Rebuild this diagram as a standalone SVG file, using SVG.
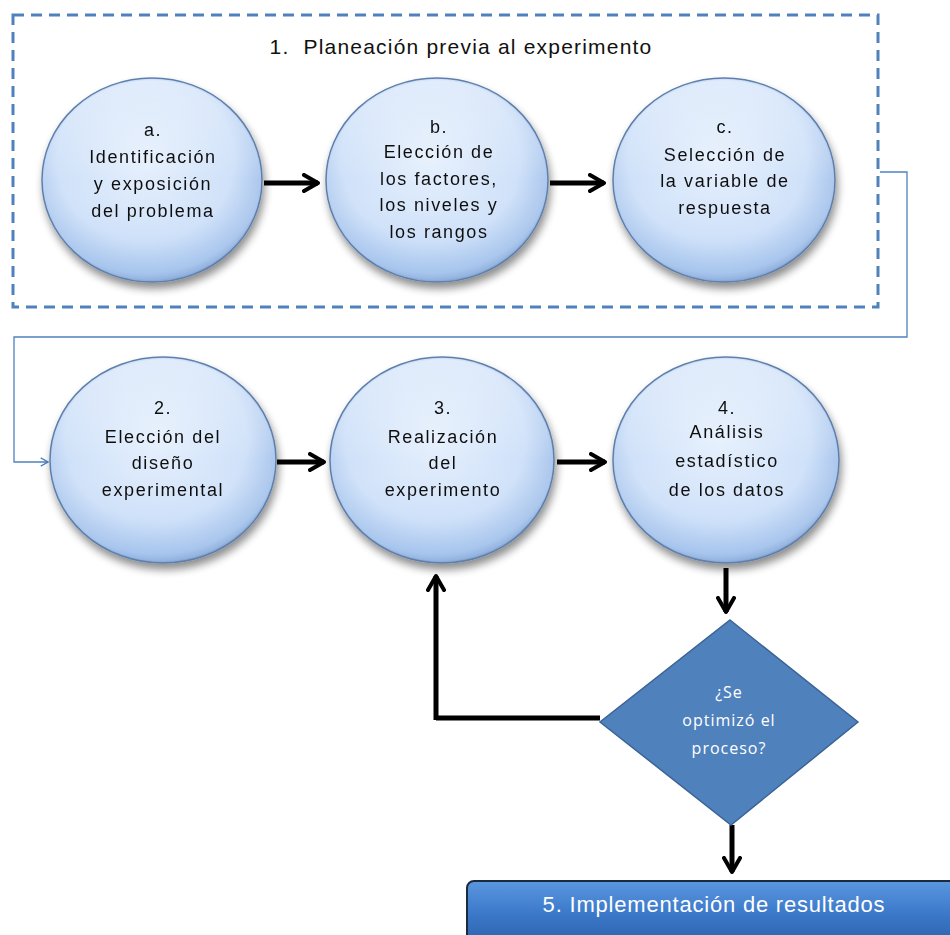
<svg xmlns="http://www.w3.org/2000/svg" width="950" height="935" viewBox="0 0 950 935">
<defs>
<radialGradient id="cg" cx="0.47" cy="0.4" r="0.62">
<stop offset="0" stop-color="#e6f0fd"/>
<stop offset="0.65" stop-color="#cfe1f9"/>
<stop offset="0.9" stop-color="#a6c3eb"/>
<stop offset="1" stop-color="#7898c6"/>
</radialGradient>
<linearGradient id="cl" x1="0" y1="0" x2="0" y2="1">
<stop offset="0" stop-color="#ffffff" stop-opacity="0.35"/>
<stop offset="0.5" stop-color="#ffffff" stop-opacity="0"/>
<stop offset="1" stop-color="#9fc4f2" stop-opacity="0.3"/>
</linearGradient>
<linearGradient id="rg" x1="0" y1="0" x2="0" y2="1">
<stop offset="0" stop-color="#5b97de"/>
<stop offset="0.5" stop-color="#3d7acb"/>
<stop offset="1" stop-color="#2d62ab"/>
</linearGradient>
<filter id="sh" x="-20%" y="-20%" width="140%" height="150%">
<feGaussianBlur in="SourceAlpha" stdDeviation="4"/>
<feOffset dx="2" dy="6" result="b"/>
<feComponentTransfer><feFuncA type="linear" slope="0.45"/></feComponentTransfer>
<feMerge><feMergeNode/><feMergeNode in="SourceGraphic"/></feMerge>
</filter>
<marker id="ah" viewBox="0 0 10 10" refX="8" refY="5" markerWidth="4" markerHeight="4" orient="auto" markerUnits="strokeWidth">
<path d="M1,1 L8,5 L1,9" fill="none" stroke="#000" stroke-width="2" stroke-linecap="round" stroke-linejoin="round"/>
</marker>
<marker id="bh" viewBox="0 0 10 10" refX="9" refY="5" markerWidth="8" markerHeight="8" orient="auto" markerUnits="strokeWidth">
<path d="M2,1 L9,5 L2,9" fill="none" stroke="#4f81bd" stroke-width="1.2"/>
</marker>
<style>
.c{fill:url(#cg);stroke:#5f7fab;stroke-width:1.5}
.cl{fill:url(#cl);stroke:none}
.t{font-family:"Liberation Sans",Arial,sans-serif;font-size:18px;fill:#111;text-anchor:middle;letter-spacing:1.6px}
.k{fill:none;stroke:#000;stroke-width:5;marker-end:url(#ah)}
.kl{fill:none;stroke:#000;stroke-width:5}
.d{font-family:"Open Sans","Noto Sans",sans-serif;font-size:16px;fill:#fff;text-anchor:middle;letter-spacing:1px}
</style>
</defs>
<rect x="0" y="0" width="950" height="935" fill="#fff"/>
<g id="phase1">
<rect x="13" y="15" width="865" height="292" fill="none" stroke="#4f81bd" stroke-width="3" stroke-dasharray="11,7"/>
<text x="461" y="54" font-family="Liberation Sans,Arial,sans-serif" font-size="21" fill="#111" text-anchor="middle" letter-spacing="1.2" xml:space="preserve">1.  Planeación previa al experimento</text>
</g>
<g id="connectors">
<path class="k" d="M264,183 L318,183"/>
<path class="k" d="M550,183 L604,183"/>
<path class="k" d="M277,462 L324,462"/>
<path class="k" d="M557,462 L605,462"/>
<path class="k" d="M726,568 L726,612"/>
<path class="kl" d="M600,718 L436,718"/>
<path class="k" d="M436,720 L436,576"/>
<path class="k" d="M732,825 L732,872"/>
<path d="M880,172 L907,172 L907,337 L14,337 L14,462 L48,462" fill="none" stroke="#4f81bd" stroke-width="1.3" marker-end="url(#bh)"/>
</g>
<g id="node-a" filter="url(#sh)">
<ellipse class="c" cx="152" cy="180" rx="110" ry="102"/>
<ellipse class="cl" cx="152" cy="180" rx="108" ry="100"/>
<text class="t" x="153" y="136">a.</text>
<text class="t" x="153" y="163">Identificación</text>
<text class="t" x="153" y="190">y exposición</text>
<text class="t" x="153" y="217">del problema</text>
</g>
<g id="node-b" filter="url(#sh)">
<ellipse class="c" cx="437" cy="180" rx="111" ry="102"/>
<ellipse class="cl" cx="437" cy="180" rx="109" ry="100"/>
<text class="t" x="439" y="133">b.</text>
<text class="t" x="439" y="158">Elección de</text>
<text class="t" x="439" y="185">los factores,</text>
<text class="t" x="439" y="211">los niveles y</text>
<text class="t" x="439" y="238">los rangos</text>
</g>
<g id="node-c" filter="url(#sh)">
<ellipse class="c" cx="724" cy="180" rx="111" ry="102"/>
<ellipse class="cl" cx="724" cy="180" rx="109" ry="100"/>
<text class="t" x="725" y="133">c.</text>
<text class="t" x="725" y="161">Selección de</text>
<text class="t" x="725" y="187">la variable de</text>
<text class="t" x="725" y="214">respuesta</text>
</g>
<g id="node-2" filter="url(#sh)">
<ellipse class="c" cx="163" cy="460" rx="113" ry="103"/>
<ellipse class="cl" cx="163" cy="460" rx="111" ry="101"/>
<text class="t" x="163" y="414">2.</text>
<text class="t" x="163" y="443">Elección del</text>
<text class="t" x="163" y="469">diseño</text>
<text class="t" x="163" y="496">experimental</text>
</g>
<g id="node-3" filter="url(#sh)">
<ellipse class="c" cx="442" cy="460" rx="112" ry="103"/>
<ellipse class="cl" cx="442" cy="460" rx="110" ry="101"/>
<text class="t" x="443" y="414">3.</text>
<text class="t" x="443" y="443">Realización</text>
<text class="t" x="443" y="469">del</text>
<text class="t" x="443" y="496">experimento</text>
</g>
<g id="node-4" filter="url(#sh)">
<ellipse class="c" cx="726" cy="460" rx="113" ry="103"/>
<ellipse class="cl" cx="726" cy="460" rx="111" ry="101"/>
<text class="t" x="727" y="414">4.</text>
<text class="t" x="727" y="438">Análisis</text>
<text class="t" x="727" y="467">estadístico</text>
<text class="t" x="727" y="496">de los datos</text>
</g>
<g id="decision">
<polygon points="730,620 858,722 731,825 600,722" fill="#4f81bd" stroke="#3b6495" stroke-width="1.5"/>
<text class="d" x="729" y="698">¿Se</text>
<text class="d" x="729" y="726">optimizó el</text>
<text class="d" x="729" y="754">proceso?</text>
</g>
<g id="node-5">
<rect x="467" y="881" width="500" height="62" rx="7" fill="url(#rg)" stroke="#1a2a40" stroke-width="2"/>
<text x="714" y="912" font-family="Liberation Sans,Arial,sans-serif" font-size="22" fill="#fff" text-anchor="middle" letter-spacing="0.8">5. Implementación de resultados</text>
</g>
</svg>
